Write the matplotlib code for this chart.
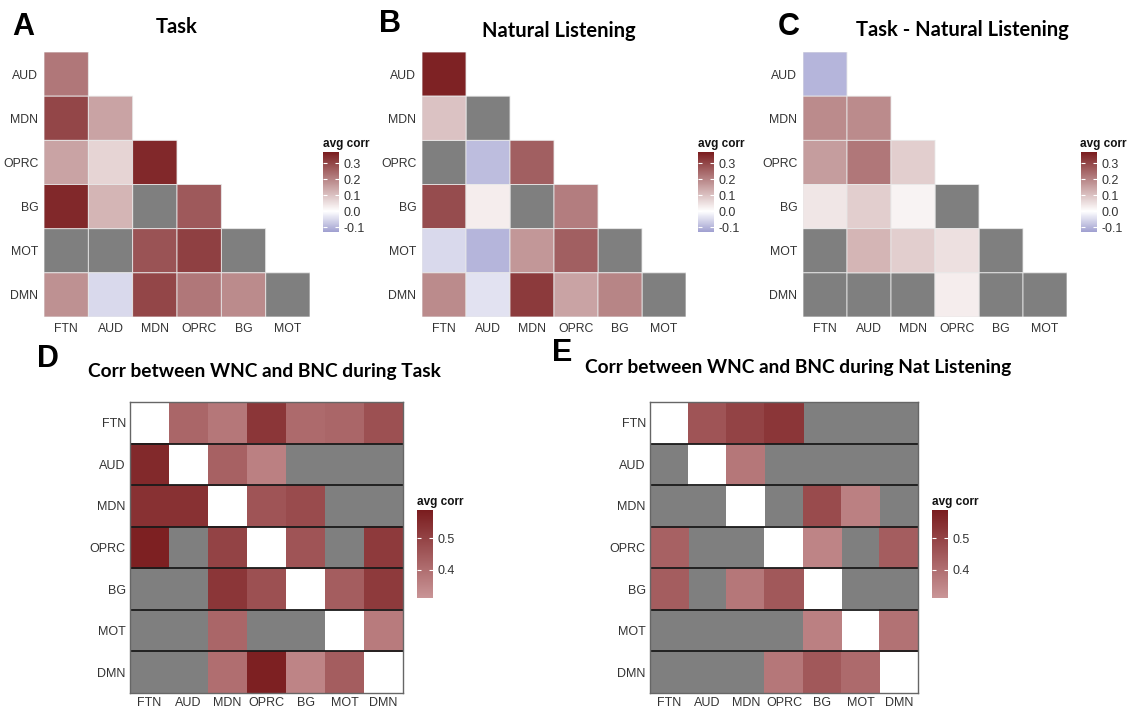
import numpy as np
import matplotlib as mpl
mpl.use('Agg')
import matplotlib.pyplot as plt
from matplotlib.colors import LinearSegmentedColormap, ListedColormap, Normalize

# network correlation heatmaps: lower triangles (A-C) and WNC/BNC grids (D-E)
W, H = 1128, 707
nan = np.nan

tri_rows = ["AUD", "MDN", "OPRC", "BG", "MOT", "DMN"]
tri_cols = ["FTN", "AUD", "MDN", "OPRC", "BG", "MOT"]

# lower triangle, one list per row; nan = not significant (grey)
task = [
    [0.22],
    [0.30, 0.15],
    [0.15, 0.07, 0.35],
    [0.35, 0.12, nan, 0.27],
    [nan, nan, 0.28, 0.31, nan],
    [0.18, -0.05, 0.30, 0.22, 0.19, nan],
]
natural = [
    [0.36],
    [0.10, nan],
    [nan, -0.09, 0.26],
    [0.29, 0.03, nan, 0.21],
    [-0.05, -0.10, 0.17, 0.26, nan],
    [0.19, -0.04, 0.32, 0.15, 0.20, nan],
]
task_minus_nat = [
    [-0.10],
    [0.19, 0.19],
    [0.16, 0.22, 0.08],
    [0.04, 0.08, 0.02, nan],
    [nan, 0.12, 0.08, 0.05, nan],
    [nan, nan, nan, 0.03, nan, nan],
]

nets = ["FTN", "AUD", "MDN", "OPRC", "BG", "MOT", "DMN"]
# full grids, diagonal left blank (white), nan elsewhere = grey
wnc_task = [
    [nan, 0.42, 0.38, 0.53, 0.41, 0.42, 0.47],
    [0.56, nan, 0.43, 0.36, nan, nan, nan],
    [0.54, 0.54, nan, 0.46, 0.48, nan, nan],
    [0.58, nan, 0.50, nan, 0.46, nan, 0.52],
    [nan, nan, 0.53, 0.47, nan, 0.44, 0.52],
    [nan, nan, 0.42, nan, nan, nan, 0.37],
    [nan, nan, 0.40, 0.58, 0.35, 0.44, nan],
]
wnc_nat = [
    [nan, 0.46, 0.50, 0.53, nan, nan, nan],
    [nan, nan, 0.38, nan, nan, nan, nan],
    [nan, nan, nan, nan, 0.48, 0.36, nan],
    [0.43, nan, nan, nan, 0.35, nan, 0.44],
    [0.44, nan, 0.38, 0.45, nan, nan, nan],
    [nan, nan, nan, nan, 0.36, nan, 0.39],
    [nan, nan, nan, 0.38, 0.45, 0.41, nan],
]

GREY = "#7f7f7f"
TXT = "#333333"
plt.rcParams['font.family'] = ['Liberation Sans', 'DejaVu Sans']

# diverging scale, white at 0
lo, hi = -0.13, 0.37
z = -lo / (hi - lo)
div_cmap = LinearSegmentedColormap.from_list(
    "div", [(0, "#a0a0d0"), (z, "#ffffff"), (1, "#7a1c1e")])
div_norm = Normalize(lo, hi)

seq_cmap = LinearSegmentedColormap.from_list("seq", ["#c99597", "#7a1c1e"])
seq_norm = Normalize(0.31, 0.59)

fig = plt.figure(figsize=(W / 100, H / 100), dpi=100)


def add_ax(x0, y0, x1, y1):
    return fig.add_axes([x0 / W, 1 - y1 / H, (x1 - x0) / W, (y1 - y0) / H])


def ftext(x, y, s, **kw):
    fig.text(x / W, 1 - y / H, s, va='baseline', **kw)


def tri_panel(box, vals):
    ax = add_ax(*box)
    n = len(tri_rows)
    full = np.full((n, n), np.nan)
    shown = np.zeros((n, n), bool)
    for i, row in enumerate(vals):
        full[i, :len(row)] = row
        shown[i, :len(row)] = True
    na = np.ma.masked_where(~(shown & np.isnan(full)), np.ones((n, n)))
    ax.pcolor(na, cmap=ListedColormap([GREY]), edgecolors="#e8e8e8", linewidth=0.6)
    ax.pcolor(np.ma.masked_invalid(full), cmap=div_cmap, norm=div_norm,
              edgecolors="#e8e8e8", linewidth=0.6)
    ax.set_xlim(0, n)
    ax.set_ylim(n, 0)
    ax.set_xticks(np.arange(n) + 0.5, tri_cols)
    ax.set_yticks(np.arange(n) + 0.5, tri_rows)
    ax.tick_params(length=0, labelsize=8.8, labelcolor=TXT, pad=4)
    for s in ax.spines.values():
        s.set_visible(False)
    return ax


def grid_panel(box, vals):
    ax = add_ax(*box)
    v = np.array(vals, float)
    n = len(nets)
    diag = np.eye(n, dtype=bool)
    na = np.ma.masked_where(~(np.isnan(v) & ~diag), np.ones((n, n)))
    ax.pcolor(na, cmap=ListedColormap([GREY]))
    ax.pcolor(np.ma.masked_where(~diag, np.ones((n, n))), cmap=ListedColormap(["white"]))
    ax.pcolor(np.ma.masked_invalid(v), cmap=seq_cmap, norm=seq_norm)
    for r in range(1, n):
        ax.axhline(r, color="#1a1a1a", lw=1.3)
    ax.set_xlim(0, n)
    ax.set_ylim(n, 0)
    ax.set_xticks(np.arange(n) + 0.5, nets)
    ax.set_yticks(np.arange(n) + 0.5, nets)
    ax.tick_params(length=0, labelsize=9, labelcolor=TXT, pad=3)
    for s in ax.spines.values():
        s.set_color("#666666")
        s.set_linewidth(1.0)
    return ax


def cbar(box, cmap, norm, ticks, title_xy):
    cax = add_ax(*box)
    cb = mpl.colorbar.ColorbarBase(cax, cmap=cmap, norm=norm, ticks=ticks)
    cb.outline.set_visible(False)
    cax.tick_params(length=3, width=0.8, direction='in', color='white',
                    left=True, right=True, labelsize=9, labelcolor=TXT, pad=3)
    cax.set_yticklabels([f"{t:.1f}" for t in ticks])
    ftext(*title_xy, "avg corr", fontsize=8.5, fontweight='bold', color="#111111")


# top row
tri_panel((44, 52, 310, 317), task)
tri_panel((422, 52, 686, 317), natural)
tri_panel((803, 52, 1067, 317), task_minus_nat)
div_ticks = [-0.1, 0.0, 0.1, 0.2, 0.3]
cbar((323, 152, 339, 232), div_cmap, div_norm, div_ticks, (323, 147))
cbar((698, 152, 714, 232), div_cmap, div_norm, div_ticks, (698, 147))
cbar((1081, 152, 1097, 232), div_cmap, div_norm, div_ticks, (1080, 147))

# bottom row
grid_panel((130, 402, 403, 693), wnc_task)
grid_panel((650, 402, 918, 693), wnc_nat)
seq_ticks = [0.4, 0.5]
cbar((417, 510, 433, 598), seq_cmap, seq_norm, seq_ticks, (417, 505))
cbar((932, 510, 948, 598), seq_cmap, seq_norm, seq_ticks, (932, 505))

# titles and panel letters
tkw = dict(fontweight='bold', family=['Lato', 'DejaVu Sans'], ha='center', color='black')
ftext(177, 33, "Task", fontsize=14.5, **tkw)
ftext(559, 37, "Natural Listening", fontsize=14.5, **tkw)
ftext(962, 36, "Task - Natural Listening", fontsize=14.5, **tkw)
ftext(264, 377, "Corr between WNC and BNC during Task", fontsize=13.8, **tkw)
ftext(798, 373, "Corr between WNC and BNC during Nat Listening", fontsize=13.8, **tkw)

lkw = dict(fontsize=22, fontweight='bold', color='black')
ftext(12, 35, "A", **lkw)
ftext(379, 32, "B", **lkw)
ftext(778, 35, "C", **lkw)
ftext(37, 367, "D", **lkw)
ftext(552, 361, "E", **lkw)

fig.savefig("out.png", dpi=100)
